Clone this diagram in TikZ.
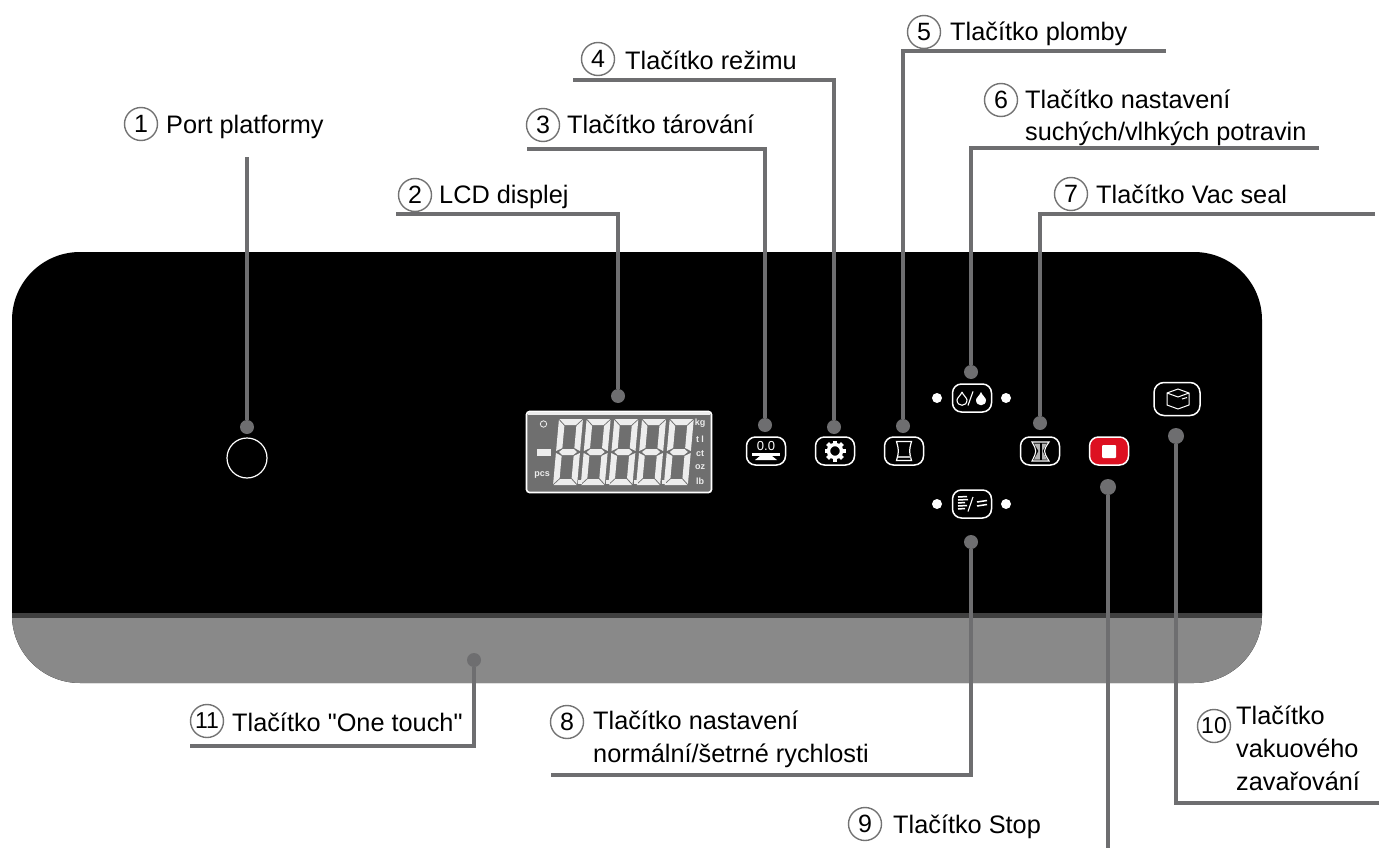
\documentclass[tikz,border=0pt]{standalone}
\usepackage{fontspec}
\setmainfont{Liberation Sans}
\newfontfamily\plainquote{Liberation Sans}[Ligatures=NoCommon]
\definecolor{lead}{HTML}{6E6E70}
\definecolor{lcdbg}{HTML}{6F6F6F}
\definecolor{seg}{HTML}{EDEDED}
\definecolor{strip}{HTML}{898989}
\definecolor{stopred}{HTML}{DD1021}
\tikzset{
  x=1pt,y=-1pt,
  leader/.style={draw=lead,line width=3.4pt,line join=miter},
  pin/.style={circle,fill=lead,minimum size=14pt,inner sep=0pt},
  numbadge/.style={circle,draw=gray!90!black,line width=1.4pt,fill=white,minimum size=33pt,inner sep=0pt,font=\fontsize{25}{25}\selectfont},
  caption/.style={anchor=base west,inner sep=0pt,align=left,font=\fontsize{25.3}{32.7}\selectfont},
  keybox/.style={draw=white,line width=1.5pt,rounded corners=9pt,minimum width=39pt,minimum height=28pt,inner sep=0pt,fill=black},
  ledspot/.style={circle,fill=white,minimum size=10pt,inner sep=0pt},
  unitlabel/.style={text=seg,inner sep=0pt,font=\fontsize{9}{9}\selectfont\bfseries},
}
\newcommand{\lcddigit}[1]{%
\begin{scope}[shift={(#1,452)},xslant=0.09]
\fill[seg] (0,-33)--(23,-33)--(17,-27)--(6,-27)--cycle;
\fill[seg] (0,33)--(23,33)--(17,27)--(6,27)--cycle;
\fill[seg] (2.5,0)--(6,-3)--(17,-3)--(20.5,0)--(17,3)--(6,3)--cycle;
\fill[seg] (-0.5,-32)--(5.5,-26)--(5.5,-4)--(-0.5,-1)--cycle;
\fill[seg] (23.5,-32)--(17.5,-26)--(17.5,-4)--(23.5,-1)--cycle;
\fill[seg] (-0.5,32)--(5.5,26)--(5.5,4)--(-0.5,1)--cycle;
\fill[seg] (23.5,32)--(17.5,26)--(17.5,4)--(23.5,1)--cycle;
\end{scope}}
\newcommand{\dropshape}[1]{(#1,392) .. controls (#1-1,395) and (#1-5,398) .. (#1-5,400) .. controls (#1-5,407) and (#1+5,407) .. (#1+5,400) .. controls (#1+5,398) and (#1+1,395) .. (#1,392)}
\begin{document}
\begin{tikzpicture}
\useasboundingbox (0,0) rectangle (1379,848);
% panel
\fill[black,rounded corners=68pt] (12,252) rectangle (1262,683);
\begin{scope}
\clip[rounded corners=68pt] (12,252) rectangle (1262,683);
\fill[strip] (12,617) rectangle (1262,683);
\fill[black!75] (12,613) rectangle (1262,618);
\end{scope}
% port
\node[circle,draw=white,line width=1.2pt,minimum size=40pt,inner sep=0pt] (port) at (247,458) {};
% LCD
\node[draw=white,line width=1.6pt,fill=lcdbg,rounded corners=3pt,minimum width=185pt,minimum height=81pt,inner sep=0pt] (lcd) at (619,452) {};
\fill[seg] (528,412) rectangle (710,414.5);
\foreach \q in {556.5,584.2,611.9,639.6,667.3} {\lcddigit{\q}}
\foreach \q in {578,606,634,662} {\fill[seg] (\q,479.5) rectangle +(3.5,4);}
\fill[seg] (537,449) rectangle (551,456);
\draw[seg,line width=0.8pt] (543.5,424) circle (3.2);
\node[unitlabel] (ukg) at (700,423) {kg};
\node[unitlabel] (utl) at (700,439) {t l};
\node[unitlabel] (uct) at (700,454) {ct};
\node[unitlabel] (uoz) at (700,467) {oz};
\node[unitlabel] (ulb) at (700,481) {lb};
\node[unitlabel] (upcs) at (542,475) {pcs};
% keys
\node[keybox] (tare) at (766,451) {};
\node[keybox] (mode) at (835,451) {};
\node[keybox] (seal) at (904,451) {};
\node[keybox] (food) at (972,398) {};
\node[keybox] (vacseal) at (1040,451) {};
\node[keybox,fill=stopred] (stop) at (1109,451) {};
\node[keybox] (speed) at (972,504) {};
\node[keybox,minimum width=46pt,minimum height=33pt,rounded corners=10pt] (canister) at (1177,399) {};
\node[ledspot] (l1) at (937,398) {};
\node[ledspot] (l2) at (1006,398) {};
\node[ledspot] (l3) at (937,504) {};
\node[ledspot] (l4) at (1006,504) {};
% tare icon
\node[text=white,inner sep=0pt,font=\fontsize{13}{13}\selectfont] (tz) at (766,446) {0.0};
\fill[white] (752,453) rectangle (780,456);
\fill[white] (760,456)--(772,456)--(777,460)--(755,460)--cycle;
% gear icon
\draw[white,line width=3.4pt] (835,451) circle (6.5);
\foreach \a in {0,45,...,315} {\fill[white,shift={(835,451)},rotate=\a] (-2,-10.5)rectangle(2,-7);}
% seal icon
\draw[white,line width=1.2pt] (896.5,441.5)--(911.5,441.5) .. controls (909,451) .. (911.5,460.5)--(896.5,460.5) .. controls (899,451) .. cycle;
\fill[white!75!black] (897.5,455.5) rectangle (910.5,458);
% food icon
\draw[white,line width=1.1pt] \dropshape{962};
\draw[white,line width=1.1pt] (968,405.5)--(973,391.5);
\fill[white] \dropshape{981};
% vac seal icon
\draw[white,line width=1.1pt] (1032,442)--(1049,442) .. controls (1043,451) .. (1049,461)--(1032,461) .. controls (1037,451) .. cycle;
\fill[white!70!black] (1034,443.5)--(1047,443.5)--(1042.5,451)--(1047,459.5)--(1034,459.5)--(1038.5,451)--cycle;
\fill[black] (1039.5,443)rectangle(1041.5,460);
% stop icon
\fill[white,rounded corners=1pt] (1102,445) rectangle (1116,458);
% speed icon
\foreach \y/\e in {497/967,500/968,503/965,506/967,509/965} {\draw[white,line width=1.5pt] (958,\y)--(\e,\y-0.5);}
\draw[white,line width=1.1pt] (968,511.5)--(973,497);
\draw[white,line width=1.5pt] (977,502)--(987,500.5) (977,506)--(987,504.5);
% canister icon
\draw[white,line width=1pt,line join=round] (1167,393)--(1178,389)--(1189,393)--(1178,397)--cycle (1167,393)--(1167,405)--(1178,409)--(1189,405)--(1189,393);
\draw[white,line width=1pt] (1182,399)--(1187,397.5);
% pins
\node[pin] (p1) at (247,427) {};
\node[pin] (p2) at (618,396) {};
\node[pin] (p3) at (765,425) {};
\node[pin] (p4) at (834,427) {};
\node[pin] (p5) at (903,426) {};
\node[pin] (p6) at (971,372) {};
\node[pin] (p7) at (1040,423) {};
\node[pin] (p8) at (971,542) {};
\node[pin,minimum size=16pt] (p9) at (1108,487) {};
\node[pin,minimum size=16pt] (p10) at (1176,436) {};
\node[pin,minimum size=14pt] (p11) at (474,660) {};
% free ends
\coordinate (e1) at (247,157);
\coordinate (e2) at (396,214);
\coordinate (e3) at (527,149);
\coordinate (e4) at (573,80);
\coordinate (e5) at (1166,51);
\coordinate (e6) at (1319,148);
\coordinate (e7) at (1375,214);
\coordinate (e8) at (551,775);
\coordinate (e9) at (1108,848);
\coordinate (e10) at (1379,803);
\coordinate (e11) at (190,746);
\draw[leader] (p1) -- (e1);
\draw[leader] (p2) |- (e2);
\draw[leader] (p3) |- (e3);
\draw[leader] (p4) |- (e4);
\draw[leader] (p5) |- (e5);
\draw[leader] (p6) |- (e6);
\draw[leader] (p7) |- (e7);
\draw[leader] (p8) |- (e8);
\draw[leader] (p9) -- (e9);
\draw[leader] (p10) |- (e10);
\draw[leader] (p11) |- (e11);
% labels
\node[numbadge] (n1) at (141,124) {1};
\node[caption] (t1) at (166,134) {Port platformy};
\node[numbadge] (n2) at (415,195) {2};
\node[caption] (t2) at (439,204) {LCD displej};
\node[numbadge] (n3) at (543,125) {3};
\node[caption] (t3) at (567,134) {Tlačítko tárování};
\node[numbadge] (n4) at (598,59) {4};
\node[caption] (t4) at (625,70) {Tlačítko režimu};
\node[numbadge] (n5) at (924,32) {5};
\node[caption] (t5) at (950,41) {Tlačítko plomby};
\node[numbadge] (n6) at (1001,100) {6};
\node[caption] (t6) at (1025,141) {Tlačítko nastavení\\suchých/vlhkých potravin};
\node[numbadge] (n7) at (1071,194) {7};
\node[caption] (t7) at (1096,203) {Tlačítko Vac seal};
\node[numbadge] (n8) at (567,722) {8};
\node[caption] (t8) at (593,762) {Tlačítko nastavení\\normální/šetrné rychlosti};
\node[numbadge] (n9) at (865,824) {9};
\node[caption] (t9) at (893,833) {Tlačítko Stop};
\node[numbadge,font=\fontsize{23}{23}\selectfont] (n10) at (1214,726) {10};
\node[caption] (t10) at (1236,790) {Tlačítko\\vakuového\\zavařování};
\node[numbadge,font=\fontsize{23}{23}\selectfont] (n11) at (207,721) {11};
\node[caption,font=\fontsize{25.3}{32.7}\plainquote] (t11) at (232,731) {Tlačítko "One touch"};
\end{tikzpicture}
\end{document}
